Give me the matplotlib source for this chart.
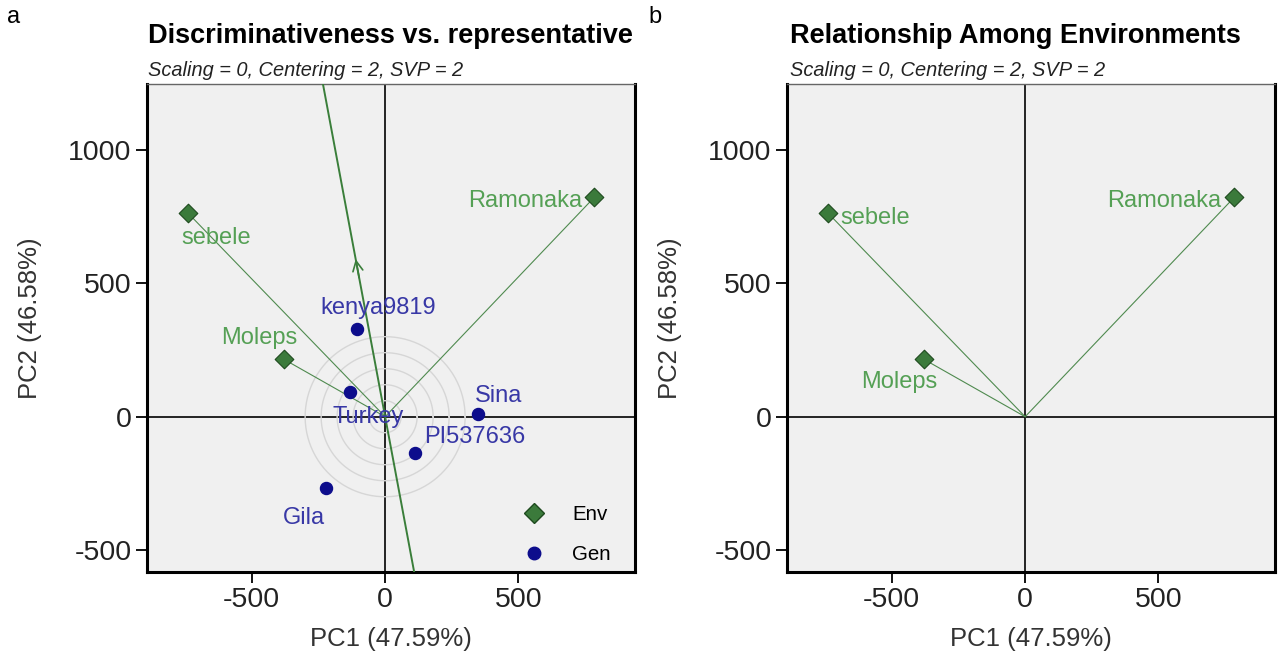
import numpy as np
import matplotlib.pyplot as plt
from matplotlib.lines import Line2D

plt.rcParams['font.family'] = ['Liberation Sans', 'DejaVu Sans']
plt.rcParams['axes.unicode_minus'] = False

# GGE biplot scores (PC1, PC2)
env_names = ["sebele", "Ramonaka", "Moleps"]
env_pc1 = [-740, 784, -381]
env_pc2 = [764, 822, 216]

gen_names = ["kenya9819", "Turkey", "Sina", "PI537636", "Gila"]
gen_pc1 = [-105, -131, 348, 111, -221]
gen_pc2 = [329, 94, 9, -136, -268]

circle_radii = [60, 120, 180, 240, 300]

x_ticks = [-500, 0, 500]
y_ticks = [-500, 0, 500, 1000]
x_label = "PC1 (47.59%)"
y_label = "PC2 (46.58%)"
subtitle = "Scaling = 0, Centering = 2, SVP = 2"

# label offsets in pixels (dx, dy)
env_off_a = [(28, -25), (-69, -4), (-24, 21)]
gen_off_a = [(21, 21), (18, -25), (21, 18), (60, 16), (-22, -30)]
env_off_b = [(47, -5), (-70, -4), (-24, -23)]

ENV_FILL = "#3b7a3b"
ENV_EDGE = "#1e4a1e"
ENV_TEXT = "#55a055"
GEN_FILL = "#0d0d8c"
GEN_TEXT = "#3838a6"
VEC_COL = "#4f8a4f"
AEC_COL = "#3a7e3a"

W, H = 1278, 663
fig = plt.figure(figsize=(W / 100, H / 100), dpi=100)
ax_a = fig.add_axes([147 / W, 91 / H, 488 / W, 488 / H])
ax_b = fig.add_axes([787 / W, 91 / H, 488 / W, 488 / H])


def base_axes(ax):
    ax.set_facecolor("#f0f0f0")
    ax.set_xlim(-893, 937)
    ax.set_ylim(-582, 1247)
    ax.axhline(0, color="black", lw=1.2, zorder=1)
    ax.axvline(0, color="black", lw=1.2, zorder=1)
    ax.set_xticks(x_ticks)
    ax.set_yticks(y_ticks)
    ax.tick_params(length=8, width=1.3, labelsize=20.5, pad=3, colors="black")
    for lab in ax.get_xticklabels() + ax.get_yticklabels():
        lab.set_color("#222222")
    for side in ["left", "bottom", "right"]:
        ax.spines[side].set_linewidth(2.2)
        ax.spines[side].set_color("black")
    ax.spines["top"].set_linewidth(1.0)
    ax.spines["top"].set_color("#666666")
    ax.set_xlabel(x_label, fontsize=18.5, color="#333333", labelpad=10)
    ax.set_ylabel(y_label, fontsize=18.5, color="#333333")
    ax.yaxis.set_label_coords(-0.215, 0.52)


def env_points(ax, offsets):
    for name, x, y, (dx, dy) in zip(env_names, env_pc1, env_pc2, offsets):
        ax.plot([0, x], [0, y], color=VEC_COL, lw=0.8, zorder=2)
        ax.annotate(name, (x, y), xytext=(dx, dy), textcoords="offset pixels",
                    ha="center", va="center", fontsize=17, color=ENV_TEXT, zorder=5)
    ax.scatter(env_pc1, env_pc2, marker="D", s=90, c=ENV_FILL,
               edgecolors=ENV_EDGE, linewidths=0.8, zorder=4)


# ---- a: discriminativeness vs. representativeness ----
base_axes(ax_a)
th = np.linspace(0, 2 * np.pi, 300)
for r in circle_radii:
    ax_a.plot(r * np.cos(th), r * np.sin(th), color="#d6d6d6", lw=1.0, zorder=1.5)

mx, my = np.mean(env_pc1), np.mean(env_pc2)
ax_a.axline((0, 0), (mx, my), color=AEC_COL, lw=1.4, zorder=3)
ax_a.annotate("", xy=(mx, my), xytext=(mx * 0.85, my * 0.85),
              arrowprops=dict(arrowstyle="->", color=AEC_COL, lw=1.2,
                              mutation_scale=18), zorder=3)

env_points(ax_a, env_off_a)
ax_a.scatter(gen_pc1, gen_pc2, marker="o", s=75, c=GEN_FILL, zorder=4)
for name, x, y, (dx, dy) in zip(gen_names, gen_pc1, gen_pc2, gen_off_a):
    ax_a.annotate(name, (x, y), xytext=(dx, dy), textcoords="offset pixels",
                  ha="center", va="center", fontsize=17, color=GEN_TEXT, zorder=5)

handles = [Line2D([], [], ls="none", marker="D", ms=10, mfc=ENV_FILL, mec=ENV_EDGE),
           Line2D([], [], ls="none", marker="o", ms=9, mfc=GEN_FILL, mec=GEN_FILL)]
ax_a.legend(handles, ["Env", "Gen"], loc="lower right",
            bbox_to_anchor=(1 - 20 / 488, 4 / 488), frameon=False,
            fontsize=14.8, labelspacing=1.0, handlelength=1.0,
            handletextpad=1.35, borderaxespad=0.0, borderpad=0.2)

# ---- b: relationship among environments ----
base_axes(ax_b)
env_points(ax_b, env_off_b)

fig.text(148 / W, 1 - 36 / H, "Discriminativeness vs. representative",
         fontsize=19.5, fontweight="bold", va="center", ha="left")
fig.text(790 / W, 1 - 36 / H, "Relationship Among Environments",
         fontsize=19.5, fontweight="bold", va="center", ha="left")
for x0 in (148, 790):
    fig.text(x0 / W, 1 - 70 / H, subtitle, fontsize=14.4, style="italic",
             va="center", ha="left", color="#222222")

fig.text(14 / W, 1 - 17 / H, "a", fontsize=17, va="center", ha="center")
fig.text(655 / W, 1 - 17 / H, "b", fontsize=17, va="center", ha="center")

fig.savefig("out.png", dpi=100)
